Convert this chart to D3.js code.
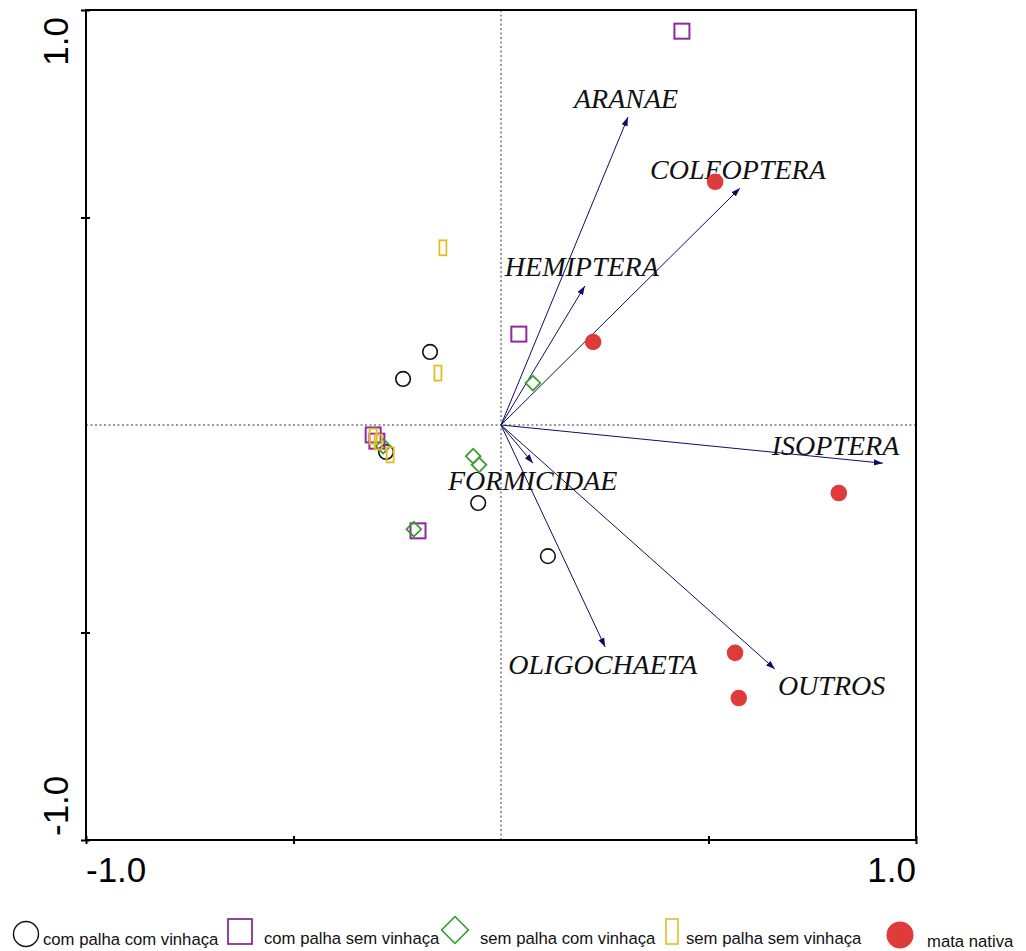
<!DOCTYPE html>
<html>
<head>
<meta charset="utf-8">
<script src="https://cdn.jsdelivr.net/npm/d3@7"></script>
<style>
  html, body { margin: 0; padding: 0; background: #fff; }
  svg { display: block; }
</style>
</head>
<body>
<svg id="chart" width="1026" height="951"></svg>
<script>
// ---- data ----
const axisTicks = [-1, -0.5, 0.5, 1];
const xTickLabels = [{v: -1, t: "-1.0"}, {v: 1, t: "1.0"}];
const yTickLabels = [{v: -1, t: "-1.0"}, {v: 1, t: "1.0"}];

const comPalhaComVinhaca = [[-0.171, 0.176], [-0.236, 0.111], [-0.277, -0.065], [-0.055, -0.188], [0.113, -0.316]];
const comPalhaSemVinhaca = [[0.436, 0.949], [0.043, 0.219], [-0.308, -0.024], [-0.299, -0.039], [-0.200, -0.255]];
const semPalhaComVinhaca = [[0.077, 0.101], [-0.067, -0.075], [-0.053, -0.096], [-0.284, -0.051], [-0.210, -0.251]];
const semPalhaSemVinhaca = [[-0.140, 0.427], [-0.152, 0.125], [-0.308, -0.027], [-0.296, -0.041], [-0.267, -0.072]];
const mataNativa = [[0.516, 0.586], [0.222, 0.200], [0.814, -0.164], [0.564, -0.549], [0.573, -0.658]];

const speciesNames = ["ARANAE", "COLEOPTERA", "HEMIPTERA", "ISOPTERA", "FORMICIDAE", "OLIGOCHAETA", "OUTROS"];
const speciesX = [0.306, 0.576, 0.202, 0.920, 0.077, 0.251, 0.660];
const speciesY = [0.742, 0.571, 0.335, -0.092, -0.092, -0.535, -0.588];

const legendLabels = ["com palha com vinhaça", "com palha sem vinhaça", "sem palha com vinhaça", "sem palha sem vinhaça", "mata nativa"];

// ---- layout (pixels) ----
const labelOffset = {
  ARANAE: [-54, -9], COLEOPTERA: [-90, -9], HEMIPTERA: [-80, -10], ISOPTERA: [-111, -8],
  FORMICIDAE: [-85, 27], OLIGOCHAETA: [-97, 27], OUTROS: [3, 26]
};

const svg = d3.select("#chart");
const x = d3.scaleLinear().domain([-1, 1]).range([86, 916]);
const y = d3.scaleLinear().domain([-1, 1]).range([840, 10]);

const navy = "#0d0d66";
const purple = "#8e2a9c";
const green = "#3a9e2c";
const yellow = "#e6bb22";
const red = "#e03b3b";

// dotted zero lines
svg.append("line").attr("x1", x(0)).attr("x2", x(0)).attr("y1", y(1)).attr("y2", y(-1))
  .attr("stroke", "#777").attr("stroke-width", 1.5).attr("stroke-dasharray", "2,2.5");
svg.append("line").attr("x1", x(-1)).attr("x2", x(1)).attr("y1", y(0)).attr("y2", y(0))
  .attr("stroke", "#777").attr("stroke-width", 1.5).attr("stroke-dasharray", "2,2.5");

// frame
svg.append("rect").attr("x", x(-1)).attr("y", y(1)).attr("width", x(1) - x(-1)).attr("height", y(-1) - y(1))
  .attr("fill", "none").attr("stroke", "#000").attr("stroke-width", 2);

// axes using d3 axes with crossing ticks
const xAxis = svg.append("g").attr("transform", `translate(0,${y(-1)})`)
  .call(d3.axisBottom(x).tickValues(axisTicks).tickSize(4).tickFormat(""));
xAxis.select(".domain").remove();
xAxis.selectAll(".tick line").attr("y1", -4).attr("y2", 4).attr("stroke", "#000").attr("stroke-width", 2);

const yAxis = svg.append("g").attr("transform", `translate(${x(-1)},0)`)
  .call(d3.axisLeft(y).tickValues(axisTicks).tickSize(5).tickFormat(""));
yAxis.select(".domain").remove();
yAxis.selectAll(".tick line").attr("x1", -5).attr("x2", 4).attr("stroke", "#000").attr("stroke-width", 2);

// tick labels
svg.selectAll(".xlab").data(xTickLabels).enter().append("text")
  .attr("x", d => x(d.v)).attr("y", 882)
  .attr("text-anchor", d => d.v < 0 ? "start" : "end")
  .attr("font-family", "Liberation Sans, Arial, sans-serif").attr("font-size", 35)
  .text(d => d.t);
svg.selectAll(".ylab").data(yTickLabels).enter().append("text")
  .attr("transform", d => `translate(68,${d.v < 0 ? y(d.v) - 4 : y(d.v) + 7}) rotate(-90)`)
  .attr("text-anchor", d => d.v < 0 ? "start" : "end")
  .attr("font-family", "Liberation Sans, Arial, sans-serif").attr("font-size", 35)
  .text(d => d.t);

// arrow marker
svg.append("defs").append("marker")
  .attr("id", "arrow").attr("viewBox", "0 0 10 10").attr("refX", 10).attr("refY", 5)
  .attr("markerWidth", 9).attr("markerHeight", 9).attr("markerUnits", "userSpaceOnUse")
  .attr("orient", "auto")
  .append("path").attr("d", "M0,1.5 L10,5 L0,8.5 Z").attr("fill", navy);

const species = speciesNames.map((n, i) => ({name: n, x: speciesX[i], y: speciesY[i]}));
svg.selectAll(".arrow").data(species).enter().append("line")
  .attr("x1", x(0)).attr("y1", y(0))
  .attr("x2", d => x(d.x)).attr("y2", d => y(d.y))
  .attr("stroke", navy).attr("stroke-width", 1).attr("marker-end", "url(#arrow)");

svg.selectAll(".slab").data(species).enter().append("text")
  .attr("x", d => x(d.x) + labelOffset[d.name][0])
  .attr("y", d => y(d.y) + labelOffset[d.name][1])
  .attr("font-family", "Liberation Serif, 'Times New Roman', serif")
  .attr("font-style", "italic").attr("font-size", 28).attr("fill", "#111")
  .text(d => d.name);

// points
svg.selectAll(".cpcv").data(comPalhaComVinhaca).enter().append("circle")
  .attr("cx", d => x(d[0])).attr("cy", d => y(d[1])).attr("r", 7.3)
  .attr("fill", "none").attr("stroke", "#111").attr("stroke-width", 1.6);

svg.selectAll(".cpsv").data(comPalhaSemVinhaca).enter().append("rect")
  .attr("x", d => x(d[0]) - 7.5).attr("y", d => y(d[1]) - 7.5).attr("width", 15).attr("height", 15)
  .attr("fill", "none").attr("stroke", purple).attr("stroke-width", 2);

svg.selectAll(".spcv").data(semPalhaComVinhaca).enter().append("path")
  .attr("transform", d => `translate(${x(d[0])},${y(d[1])}) rotate(45)`)
  .attr("d", "M-5.2,-5.2 L5.2,-5.2 L5.2,5.2 L-5.2,5.2 Z")
  .attr("fill", "none").attr("stroke", green).attr("stroke-width", 1.8);

svg.selectAll(".spsv").data(semPalhaSemVinhaca).enter().append("rect")
  .attr("x", d => x(d[0]) - 3.5).attr("y", d => y(d[1]) - 7.5).attr("width", 7).attr("height", 15)
  .attr("fill", "none").attr("stroke", yellow).attr("stroke-width", 1.8);

svg.selectAll(".mn").data(mataNativa).enter().append("circle")
  .attr("cx", d => x(d[0])).attr("cy", d => y(d[1])).attr("r", 8.3)
  .attr("fill", red);

// legend
const lg = svg.append("g");
const lgFont = "Liberation Sans, Arial, sans-serif";
lg.append("circle").attr("cx", 26).attr("cy", 934).attr("r", 12.5)
  .attr("fill", "none").attr("stroke", "#111").attr("stroke-width", 1.4);
lg.append("rect").attr("x", 228).attr("y", 919).attr("width", 24).attr("height", 25)
  .attr("fill", "none").attr("stroke", purple).attr("stroke-width", 1.8);
lg.append("path").attr("transform", "translate(455,930) rotate(45)")
  .attr("d", "M-9.5,-9.5 L9.5,-9.5 L9.5,9.5 L-9.5,9.5 Z")
  .attr("fill", "none").attr("stroke", green).attr("stroke-width", 1.6);
lg.append("rect").attr("x", 666).attr("y", 919).attr("width", 12).attr("height", 25)
  .attr("fill", "none").attr("stroke", yellow).attr("stroke-width", 1.6);
lg.append("circle").attr("cx", 900).attr("cy", 935).attr("r", 13.5).attr("fill", red);

const legendX = [43, 264, 480, 686, 927];
const legendY = [945, 944, 944, 944, 947];
lg.selectAll(".lt").data(legendLabels).enter().append("text")
  .attr("x", (d, i) => legendX[i]).attr("y", (d, i) => legendY[i])
  .attr("font-family", lgFont).attr("font-size", 16.7).attr("fill", "#111")
  .text(d => d);
</script>
</body>
</html>
